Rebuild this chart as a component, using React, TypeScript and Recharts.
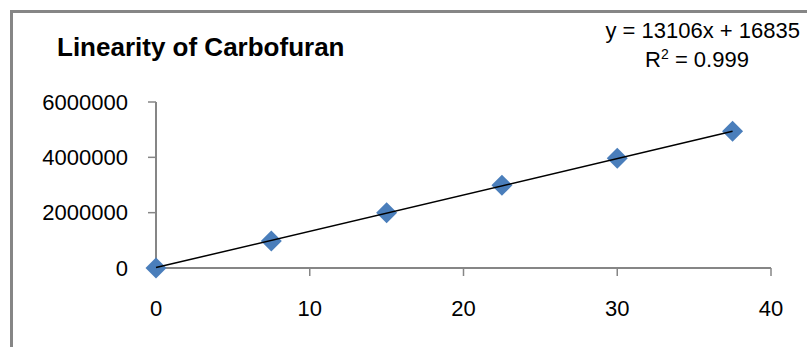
import { ScatterChart, Scatter, XAxis, YAxis } from 'recharts';

// concentration (x) vs peak area (y)
const concentrations = [0, 7.5, 15, 22.5, 30, 37.5];
const peakAreas = [0, 980000, 2000000, 2990000, 3970000, 4940000];

// trendline end points
const trendX = [0, 37.5];
const trendY = [15000, 4940000];

const xTicks = [0, 10, 20, 30, 40];
const yTicks = [0, 2000000, 4000000, 6000000];

const title = 'Linearity of Carbofuran';
const equation = 'y = 13106x + 16835';
const rSquared = '0.999';

const points = concentrations.map((x, i) => ({ x, y: peakAreas[i] }));
const trend = trendX.map((x, i) => ({ x, y: trendY[i] }));

const FONT = '"Liberation Sans", Arial, sans-serif';
const AXIS = '#868686';

function Diamond(props: any) {
  const { cx, cy } = props;
  if (cx == null || cy == null) return null;
  const r = 10.5;
  return (
    <path
      d={`M${cx},${cy - r} L${cx + r},${cy} L${cx},${cy + r} L${cx - r},${cy} Z`}
      fill="#4a7ebb"
    />
  );
}

export default function App() {
  return (
    <div
      style={{
        position: 'fixed',
        left: 0,
        top: 0,
        width: 807,
        height: 347,
        overflow: 'hidden',
        background: '#fff',
      }}
    >
      <div
        style={{
          position: 'absolute',
          left: 10,
          top: 10,
          width: 900,
          height: 500,
          border: `3px solid ${AXIS}`,
        }}
      />
      <div style={{ position: 'absolute', left: 0, top: 0 }}>
        <ScatterChart
          width={807}
          height={347}
          margin={{ top: 102, right: 36, bottom: 0, left: 0 }}
        >
          <XAxis
            type="number"
            dataKey="x"
            domain={[0, 40]}
            ticks={xTicks}
            height={79}
            stroke={AXIS}
            axisLine={{ stroke: AXIS, strokeWidth: 2 }}
            tickLine={{ stroke: AXIS, strokeWidth: 1.5 }}
            tickSize={8}
            tickMargin={24}
            tick={{ fill: '#000', fontSize: 22, fontFamily: FONT }}
          />
          <YAxis
            type="number"
            dataKey="y"
            domain={[0, 6000000]}
            ticks={yTicks}
            width={156}
            stroke={AXIS}
            axisLine={{ stroke: AXIS, strokeWidth: 2 }}
            tickLine={{ stroke: AXIS, strokeWidth: 1.5 }}
            tickSize={8}
            tickMargin={20}
            tick={{ fill: '#000', fontSize: 22, fontFamily: FONT }}
          />
          <Scatter
            data={points}
            shape={<Diamond />}
            isAnimationActive={false}
          />
          <Scatter
            data={trend}
            line={{ stroke: '#000', strokeWidth: 1.5 }}
            shape={() => <g />}
            isAnimationActive={false}
          />
        </ScatterChart>
      </div>
      <svg
        width={807}
        height={347}
        style={{ position: 'absolute', left: 0, top: 0, pointerEvents: 'none' }}
      >
        <text x={57} y={56} fontFamily={FONT} fontWeight="bold" fontSize={26} fill="#000">
          {title}
        </text>
        <text x={800} y={38} textAnchor="end" fontFamily={FONT} fontSize={22} fill="#000">
          {equation}
        </text>
        <text x={697} y={67} textAnchor="middle" fontFamily={FONT} fontSize={22} fill="#000">
          R<tspan dy={-8} fontSize={14}>2</tspan>
          <tspan dy={8}>{` = ${rSquared}`}</tspan>
        </text>
      </svg>
    </div>
  );
}
